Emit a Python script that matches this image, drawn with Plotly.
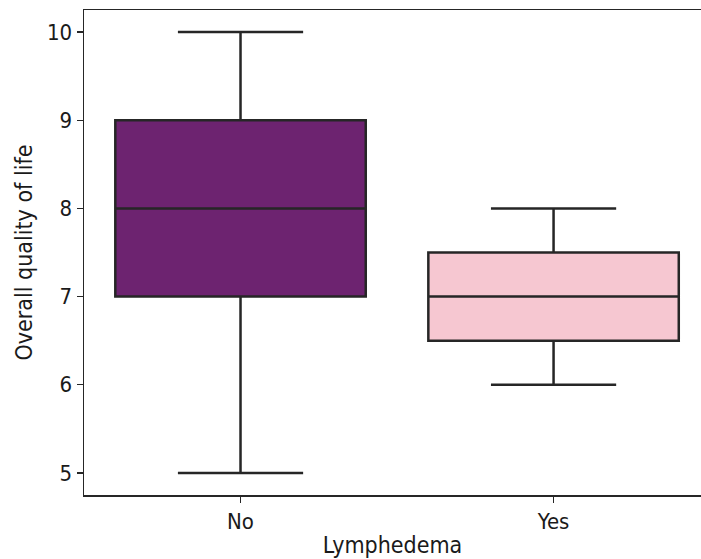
import plotly.graph_objects as go

categories = ["No", "Yes"]
q1_vals = [7.0, 6.5]
median_vals = [8.0, 7.0]
q3_vals = [9.0, 7.5]
lower_vals = [5.0, 6.0]
upper_vals = [10.0, 8.0]
fill_colors = ["#6D2370", "#F6C7D1"]
y_ticks = [5, 6, 7, 8, 9, 10]

line_col = "#262626"
fig = go.Figure()
for i, cat in enumerate(categories):
    fig.add_trace(go.Box(
        x=[cat], q1=[q1_vals[i]], median=[median_vals[i]], q3=[q3_vals[i]],
        lowerfence=[lower_vals[i]], upperfence=[upper_vals[i]],
        width=0.8, whiskerwidth=0.5, fillcolor=fill_colors[i],
        line=dict(color=line_col, width=2.5), showlegend=False,
        hoverinfo="skip", boxpoints=False,
    ))

font = dict(family="DejaVu Sans Condensed, DejaVu Sans", size=22, color="#1a1a1a")
title_font = dict(family="DejaVu Sans Condensed, DejaVu Sans", size=23, color="#1a1a1a")
fig.update_layout(
    width=701, height=559,
    margin=dict(l=84, r=0, t=10, b=64),
    paper_bgcolor="white", plot_bgcolor="white",
    boxmode="overlay",
    font=font,
)
fig.update_xaxes(
    type="category", categoryorder="array", categoryarray=categories,
    range=[-0.5, 1.471],
    showline=True, linecolor=line_col, linewidth=1.5, mirror=True,
    ticks="outside", ticklen=6, tickwidth=1.2, tickcolor=line_col,
    showgrid=False, zeroline=False,
    title=dict(text="Lymphedema", standoff=4, font=title_font),
    tickfont=font,
)
fig.update_yaxes(
    range=[4.75, 10.25], tickvals=y_ticks,
    showline=True, linecolor=line_col, linewidth=1.5, mirror=False,
    ticks="outside", ticklen=6, tickwidth=1.2, tickcolor=line_col,
    showgrid=False, zeroline=False,
    title=dict(text="Overall quality of life", standoff=8, font=title_font),
    tickfont=font,
)
fig.write_html(
    "out.html",
    config={"displayModeBar": False, "staticPlot": True},
    post_script="document.body.style.margin='0';document.body.style.overflow='hidden';",
)
